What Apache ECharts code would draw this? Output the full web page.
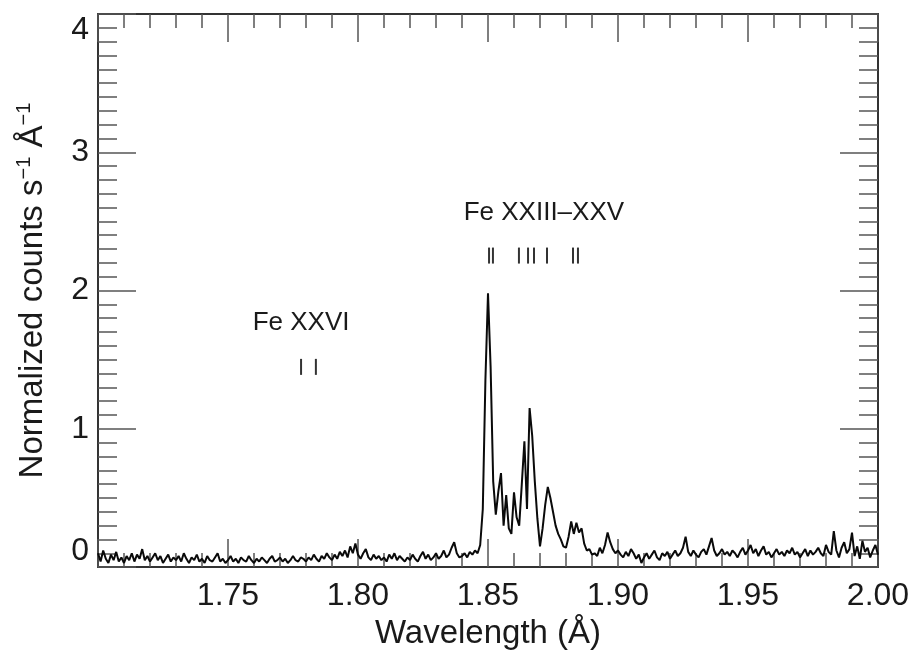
<!DOCTYPE html>
<html>
<head>
<meta charset="utf-8">
<title>Fe K spectrum</title>
<script src="https://cdn.jsdelivr.net/npm/echarts@6/dist/echarts.min.js"></script>
<style>
  html, body { margin: 0; padding: 0; background: #fff; }
  #main { width: 915px; height: 655px; }
</style>
</head>
<body>
<div id="main"></div>
<script>
// 波长采样：起点和步长 (Å)
var waveStart = 1.700;
var waveStep = 0.001;
// 归一化计数 (counts s^-1 Å^-1)，每行 10 个点
var counts = [
    0.10, 0.04, 0.12, 0.06, 0.03, 0.09, 0.05, 0.11, 0.04, 0.07,
    0.03, 0.08, 0.05, 0.10, 0.04, 0.09, 0.06, 0.13, 0.05, 0.08,
    0.04, 0.07, 0.10, 0.05, 0.08, 0.03, 0.06, 0.09, 0.04, 0.07,
    0.05, 0.08, 0.04, 0.10, 0.06, 0.03, 0.07, 0.05, 0.09, 0.04,
    0.06, 0.03, 0.08, 0.05, 0.04, 0.07, 0.10, 0.04, 0.06, 0.03,
    0.05, 0.08, 0.04, 0.06, 0.03, 0.07, 0.05, 0.04, 0.08, 0.05,
    0.03, 0.06, 0.04, 0.07, 0.05, 0.03, 0.06, 0.08, 0.04, 0.05,
    0.07, 0.04, 0.06, 0.03, 0.05, 0.08, 0.05, 0.04, 0.07, 0.06,
    0.04, 0.07, 0.05, 0.09, 0.06, 0.04, 0.08, 0.06, 0.10, 0.07,
    0.05, 0.09, 0.06, 0.11, 0.08, 0.12, 0.07, 0.15, 0.10, 0.17,
    0.09, 0.06, 0.10, 0.13, 0.07, 0.05, 0.09, 0.06, 0.08, 0.05,
    0.07, 0.04, 0.09, 0.06, 0.10, 0.05, 0.08, 0.06, 0.04, 0.07,
    0.05, 0.09, 0.06, 0.04, 0.08, 0.11, 0.06, 0.09, 0.05, 0.07,
    0.10, 0.06, 0.08, 0.12, 0.07, 0.09, 0.14, 0.18, 0.10, 0.07,
    0.08, 0.10, 0.07, 0.11, 0.09, 0.12, 0.10, 0.16, 0.42, 1.35,
    1.98, 1.45, 0.62, 0.38, 0.55, 0.68, 0.30, 0.52, 0.28, 0.24,
    0.54, 0.36, 0.30, 0.60, 0.91, 0.42, 1.15, 0.95, 0.62, 0.35,
    0.15, 0.28, 0.45, 0.58, 0.50, 0.40, 0.30, 0.24, 0.20, 0.15,
    0.14, 0.22, 0.33, 0.24, 0.32, 0.25, 0.28, 0.17, 0.12, 0.13,
    0.09, 0.10, 0.08, 0.14, 0.10, 0.16, 0.25, 0.18, 0.13, 0.10,
    0.12, 0.09, 0.07, 0.11, 0.08, 0.13, 0.10, 0.06, 0.09, 0.03,
    0.07, 0.10, 0.06, 0.09, 0.12, 0.07, 0.05, 0.10, 0.08, 0.11,
    0.06, 0.09, 0.12, 0.08, 0.10, 0.14, 0.22, 0.11, 0.08, 0.12,
    0.09, 0.07, 0.11, 0.13, 0.09, 0.15, 0.21, 0.12, 0.08, 0.10,
    0.13, 0.09, 0.11, 0.08, 0.12, 0.10, 0.07, 0.11, 0.14, 0.09,
    0.12, 0.16, 0.10, 0.13, 0.08, 0.12, 0.15, 0.09, 0.11, 0.07,
    0.10, 0.13, 0.09, 0.11, 0.08, 0.12, 0.10, 0.14, 0.09, 0.11,
    0.07, 0.10, 0.13, 0.08, 0.12, 0.09, 0.11, 0.14, 0.10, 0.08,
    0.16, 0.11, 0.09, 0.26, 0.12, 0.07, 0.14, 0.18, 0.10, 0.13,
    0.25, 0.08, 0.15, 0.06, 0.19, 0.11, 0.14, 0.07, 0.12, 0.16,
    0.09
];

// 谱线标记位置 (Å) 和标记所在高度
var feXXVILines = [1.7781, 1.7838];
var feXXVLines = [1.8504, 1.8519, 1.8619, 1.8654, 1.8677, 1.8727, 1.8827, 1.8846];
var markLevels = [1.448, 2.253];

// 离子名称标注
var ionNames = ['Fe XXVI', 'Fe XXIII\u2013XXV'];
var ionWaves = [1.7781, 1.8715];
var ionLevels = [1.769, 2.563];

// 坐标轴刻度
var xTicks = [1.70, 2.00, 0.05];
var yTicks = [0, 4, 1];

var spectrum = [];
for (var i = 0; i < counts.length; i++) {
    spectrum.push([waveStart + waveStep * i, counts[i]]);
}
var marks = [];
for (i = 0; i < feXXVILines.length; i++) marks.push([feXXVILines[i], markLevels[0]]);
for (i = 0; i < feXXVLines.length; i++) marks.push([feXXVLines[i], markLevels[1]]);
var labels = [];
for (i = 0; i < ionNames.length; i++) labels.push({name: ionNames[i], value: [ionWaves[i], ionLevels[i]]});

var font = 'Liberation Sans, Arial, Helvetica, sans-serif';
var tickColor = '#555';
var textColor = '#1a1a1a';

function xAxisOf(pos, show) {
    return {
        type: 'value',
        position: pos,
        min: xTicks[0],
        max: xTicks[1],
        interval: xTicks[2],
        name: show ? 'Wavelength (\u00c5)' : '',
        nameLocation: 'middle',
        nameGap: 45,
        nameTextStyle: {fontFamily: font, fontSize: 33, color: textColor},
        axisLine: {show: true, onZero: false, lineStyle: {color: '#333', width: 2}},
        axisTick: {show: true, inside: true, length: 28, lineStyle: {color: tickColor, width: 1.5}},
        minorTick: {show: true, splitNumber: 5, length: 14, lineStyle: {color: tickColor, width: 1.5}},
        axisLabel: {
            show: show,
            showMinLabel: false,
            margin: 13,
            fontFamily: font,
            fontSize: 32,
            color: textColor,
            formatter: function (v) { return v.toFixed(2); }
        },
        splitLine: {show: false}
    };
}

function yAxisOf(pos, show) {
    return {
        type: 'value',
        position: pos,
        min: yTicks[0],
        max: yTicks[1],
        interval: yTicks[2],
        name: show ? '{a|Normalized counts s}{s|\u22121}{a| \u00c5}{s|\u22121}' : '',
        nameLocation: 'middle',
        nameRotate: 90,
        nameGap: 46,
        nameTextStyle: {
            rich: {
                a: {fontFamily: font, fontSize: 33, color: textColor, lineHeight: 38},
                s: {fontFamily: font, fontSize: 20, color: textColor, lineHeight: 21, verticalAlign: 'top'}
            }
        },
        axisLine: {show: true, onZero: false, lineStyle: {color: '#333', width: 2}},
        axisTick: {show: true, inside: true, length: 38, lineStyle: {color: tickColor, width: 1.5}},
        minorTick: {show: true, splitNumber: 10, length: 19, lineStyle: {color: tickColor, width: 1.5}},
        axisLabel: {
            show: show,
            margin: 9,
            fontFamily: font,
            fontSize: 32,
            color: textColor,
            verticalAlignMinLabel: 'bottom',
            verticalAlignMaxLabel: 'top'
        },
        splitLine: {show: false}
    };
}

var myChart = echarts.init(document.getElementById('main'));
var option = {
    backgroundColor: '#fff',
    animation: false,
    grid: {left: 98, right: 37, top: 14, bottom: 87, containLabel: false},
    xAxis: [xAxisOf('bottom', true), xAxisOf('top', false)],
    yAxis: [yAxisOf('left', true), yAxisOf('right', false)],
    series: [
        {
            type: 'line',
            data: spectrum,
            showSymbol: false,
            lineStyle: {color: '#0a0a0a', width: 2},
            clip: true,
            z: 3
        },
        {
            // 谱线位置短竖线
            type: 'scatter',
            data: marks,
            symbol: 'rect',
            symbolSize: [2, 16],
            itemStyle: {color: '#333', opacity: 1},
            z: 4
        },
        {
            type: 'scatter',
            data: labels,
            symbolSize: 0,
            itemStyle: {opacity: 1},
            label: {
                show: true,
                position: 'inside',
                formatter: function (p) { return p.name; },
                fontFamily: font,
                fontSize: 26,
                color: textColor,
                opacity: 1
            },
            z: 5
        }
    ]
};
myChart.setOption(option);
</script>
</body>
</html>
